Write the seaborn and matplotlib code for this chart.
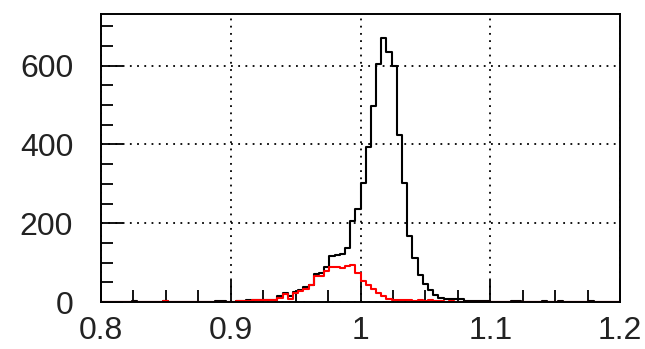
import numpy as np
import pandas as pd
import matplotlib
matplotlib.use("Agg")
import matplotlib.pyplot as plt
import seaborn as sns
from matplotlib.ticker import MultipleLocator, FixedLocator, FuncFormatter

# ---- data ----
x_min, x_max, n_bins = 0.8, 1.2, 100
total_counts = [
    0, 0, 0, 0, 0, 0, 3, 0, 0, 0,
    0, 0, 2, 0, 0, 0, 0, 0, 0, 0,
    0, 0, 2, 2, 1, 0, 2, 3, 4, 4,
    5, 5, 6, 6, 14, 22, 15, 25, 30, 37,
    42, 70, 74, 90, 118, 120, 122, 138, 205, 236,
    302, 393, 497, 605, 670, 635, 598, 425, 303, 167,
    111, 68, 45, 30, 18, 11, 8, 8, 7, 7,
    3, 3, 2, 2, 3, 1, 0, 0, 0, 2,
    3, 1, 0, 0, 0, 2, 0, 0, 2, 0,
    0, 0, 0, 0, 2, 0, 0, 0, 0, 0,
]
red_counts = [
    0, 0, 0, 0, 0, 0, 0, 0, 0, 0,
    0, 0, 2, 0, 0, 0, 0, 0, 0, 0,
    0, 0, 1, 1, 0, 0, 2, 3, 3, 4,
    4, 5, 5, 5, 11, 20, 8, 22, 28, 32,
    42, 66, 65, 79, 89, 90, 87, 92, 95, 74,
    53, 42, 32, 24, 15, 7, 5, 4, 5, 4,
    3, 5, 3, 4, 2, 2, 1, 2, 1, 1,
    0, 0, 0, 0, 0, 0, 0, 0, 0, 0,
    0, 0, 0, 0, 0, 0, 0, 0, 0, 0,
    0, 0, 0, 0, 0, 0, 0, 0, 0, 0,
]
x_ticks = [0.8, 0.9, 1.0, 1.1, 1.2]
y_ticks = [0, 200, 400, 600]

edges = [x_min + i * (x_max - x_min) / n_bins for i in range(n_bins + 1)]
centers = [0.5 * (edges[i] + edges[i + 1]) for i in range(n_bins)]
df = pd.DataFrame({"x": centers, "total": total_counts, "red": red_counts})

# ---- figure ----
sns.set_style("white")
plt.rcParams["font.family"] = ["Liberation Sans", "DejaVu Sans"]

fig = plt.figure(figsize=(6.45, 3.49), dpi=100)
ax = fig.add_axes([101 / 645, 1 - 302 / 349, (620 - 101) / 645, (302 - 14) / 349])

sns.histplot(data=df, x="x", weights="total", bins=edges, element="step",
             fill=False, color="black", linewidth=1.5, ax=ax)
sns.histplot(data=df, x="x", weights="red", bins=edges, element="step",
             fill=False, color="#ff0000", linewidth=1.5, ax=ax)

ax.set_xlim(x_min, x_max)
ax.set_ylim(0, 731)
ax.set_xlabel("")
ax.set_ylabel("")

ax.xaxis.set_major_locator(FixedLocator(x_ticks))
ax.xaxis.set_minor_locator(MultipleLocator(0.025))
ax.yaxis.set_major_locator(FixedLocator(y_ticks))
ax.yaxis.set_minor_locator(MultipleLocator(50))
ax.xaxis.set_major_formatter(FuncFormatter(lambda v, p: f"{v:g}"))
ax.yaxis.set_major_formatter(FuncFormatter(lambda v, p: f"{v:g}"))

ax.tick_params(which="major", direction="in", length=16, width=1.3,
               colors="black", labelsize=23, bottom=True, left=True,
               top=False, right=False)
ax.tick_params(which="minor", direction="in", length=8.5, width=1.3,
               colors="black", bottom=True, left=True, top=False, right=False)
ax.tick_params(axis="x", which="major", pad=10)
ax.tick_params(axis="y", which="major", pad=20)
for lab in ax.get_xticklabels() + ax.get_yticklabels():
    lab.set_color("#222222")

ax.grid(True, which="major", color="black", linestyle=(0, (1, 3)), linewidth=1.3)
ax.set_axisbelow(True)

for s in ax.spines.values():
    s.set_color("black")
    s.set_linewidth(1.4)
    s.set_visible(True)

fig.savefig("out.png", dpi=100, facecolor="white")
